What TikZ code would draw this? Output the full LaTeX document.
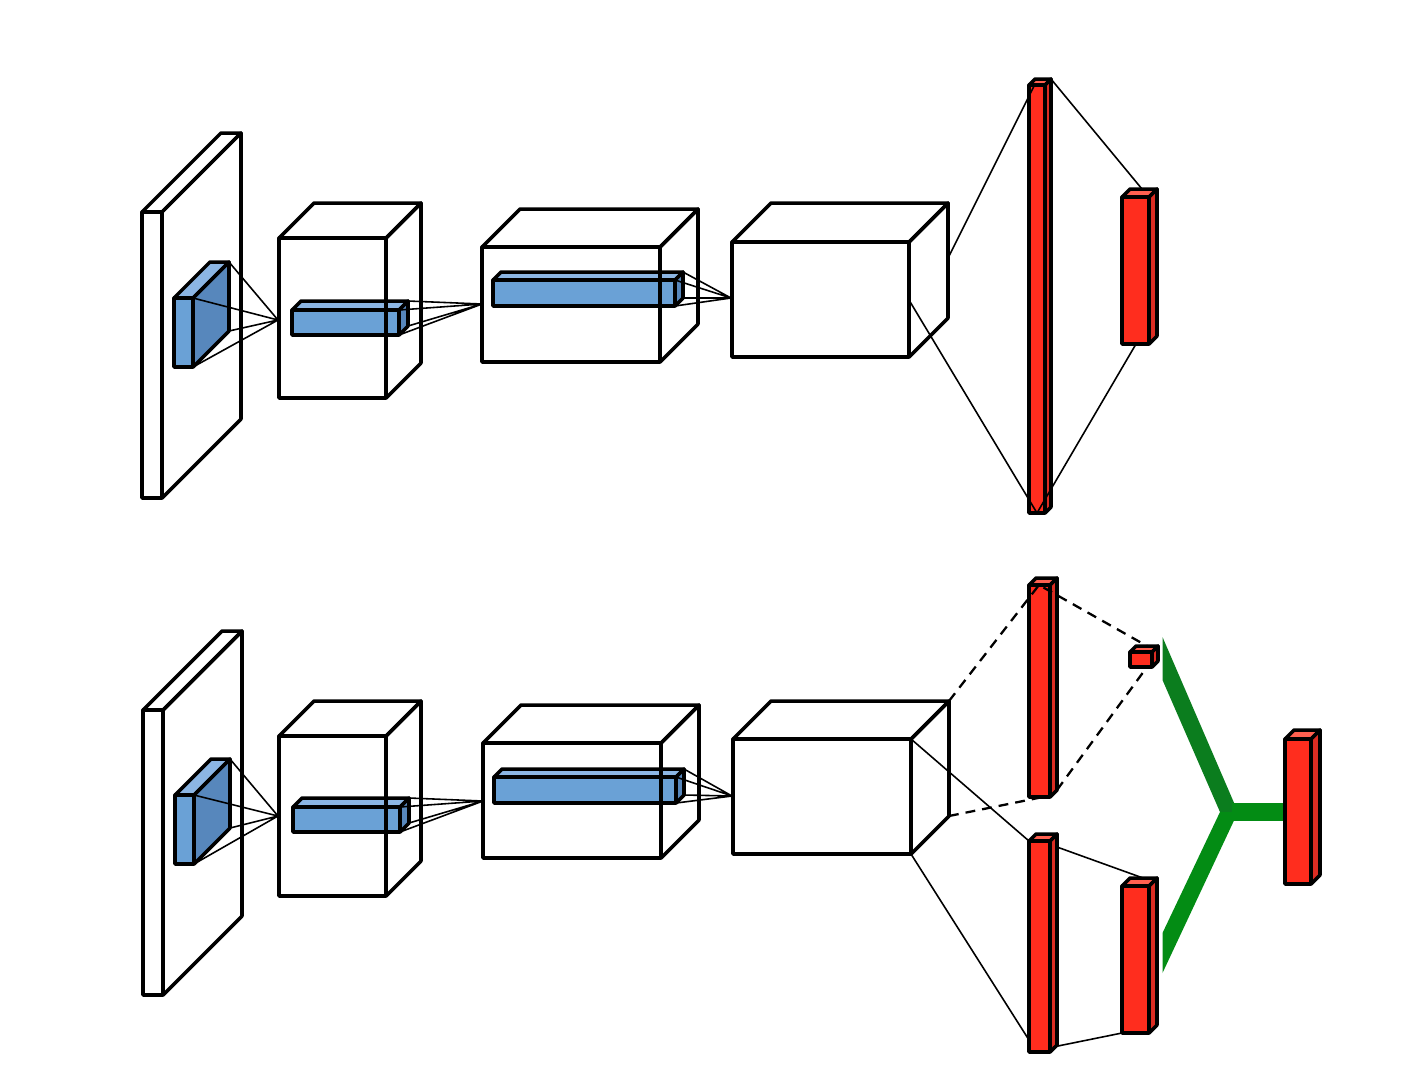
\documentclass[tikz,border=0pt]{standalone}
\usetikzlibrary{calc}

\definecolor{bluefc}{HTML}{6AA1D6}
\definecolor{bluetc}{HTML}{8CB6E4}
\definecolor{bluesc}{HTML}{5787BC}
\definecolor{redfc}{HTML}{FF2D1E}
\definecolor{redtc}{HTML}{FF6050}
\definecolor{redsc}{HTML}{DC2D23}
\definecolor{greenup}{HTML}{0B7D1E}
\definecolor{greenlo}{HTML}{038C14}

% #1 name, #2 x, #3 y (front top-left, px), #4 width, #5 height, #6 depth, #7 colour set
\newcommand{\cuboid}[7]{%
  \coordinate (#1-ftl) at (#2,#3);
  \coordinate (#1-ftr) at ({#2+#4},#3);
  \coordinate (#1-fbl) at (#2,{#3+#5});
  \coordinate (#1-fbr) at ({#2+#4},{#3+#5});
  \coordinate (#1-btl) at ({#2+#6},{#3-#6});
  \coordinate (#1-btr) at ({#2+#4+#6},{#3-#6});
  \coordinate (#1-bbr) at ({#2+#4+#6},{#3+#5-#6});
  \path[#7top] (#1-ftl) -- (#1-btl) -- (#1-btr) -- (#1-ftr) -- cycle;
  \path[#7side] (#1-ftr) -- (#1-btr) -- (#1-bbr) -- (#1-fbr) -- cycle;
  \path[#7front] (#1-ftl) rectangle (#1-fbr);
}

\begin{document}
\begin{tikzpicture}[x=0.01cm,y=-0.01cm]
	\tikzset{
		frame/.style={draw=black, line width=1pt, line join=round},
		plaintop/.style={frame}, plainside/.style={frame}, plainfront/.style={frame},
		bluetop/.style={frame, fill=bluetc}, blueside/.style={frame, fill=bluesc}, bluefront/.style={frame, fill=bluefc},
		redtop/.style={frame, fill=redtc}, redside/.style={frame, fill=redsc}, redfront/.style={frame, fill=redfc},
		wire/.style={draw=black, line width=0.45pt},
		dashwire/.style={draw=black, line width=0.65pt, dash pattern=on 2.8pt off 2pt}
	}
	\useasboundingbox (0,0) rectangle (1402,1090);

	% upper network
	\cuboid{pa1}{174}{298}{19}{69}{36}{blue}
	\cuboid{br2}{292}{310}{107}{25}{9}{blue}
	\cuboid{br3}{493}{280}{182}{26}{8}{blue}
	\cuboid{in1}{142}{212}{20}{286}{79}{plain}
	\cuboid{cu2}{279}{238}{107}{160}{35}{plain}
	\cuboid{cu3}{482}{247}{178}{115}{38}{plain}
	\cuboid{cu4}{732}{242}{177}{115}{39}{plain}
	\cuboid{fc1}{1029}{85}{16}{428}{6}{red}
	\cuboid{fc2}{1122}{197}{27}{147}{8}{red}

	\coordinate (cv2) at (278,320);
	\coordinate (cv3) at (482,304);
	\coordinate (cv4) at (731,298);
	\coordinate (o4a) at (948,258);
	\coordinate (o4b) at (909,300);
	\coordinate (f1top) at (1035,84);
	\coordinate (f1bot) at (1037,513);
	\coordinate (f2top) at (1142,189);
	\coordinate (f2bot) at (1136,344);

	\draw[wire] (pa1-ftr) -- (cv2) (pa1-btr) -- (cv2) (pa1-bbr) -- (cv2) (pa1-fbr) -- (cv2);
	\draw[wire] (br2-ftr) -- (cv3) (br2-btr) -- (cv3) (br2-bbr) -- (cv3) (br2-fbr) -- (cv3);
	\draw[wire] (br3-ftr) -- (cv4) (br3-btr) -- (cv4) (br3-bbr) -- (cv4) (br3-fbr) -- (cv4);
	\draw[wire] (o4a) -- (f1top);
	\draw[wire] (o4b) -- (f1bot);
	\draw[wire] (fc1-btr) -- (f2top);
	\draw[wire] (f1bot) -- (f2bot);

	% lower network
	\cuboid{pb1}{175}{795}{19}{69}{36}{blue}
	\cuboid{bb2}{293}{807}{107}{25}{9}{blue}
	\cuboid{bb3}{494}{777}{182}{26}{8}{blue}
	\cuboid{in1b}{143}{710}{20}{285}{79}{plain}
	\cuboid{cu2b}{279}{736}{107}{160}{35}{plain}
	\cuboid{cu3b}{483}{743}{178}{115}{38}{plain}
	\cuboid{cu4b}{733}{739}{178}{115}{38}{plain}
	\cuboid{fa}{1029}{585}{21}{212}{7}{red}
	\cuboid{sm}{1130}{652}{22}{15}{6}{red}
	\cuboid{fb}{1029}{841}{21}{211}{7}{red}
	\cuboid{fcb}{1122}{886}{27}{147}{8}{red}

	% merge
	\fill[greenup] (1162.5,637) -- (1238,812) -- (1220,812) -- (1162.5,680) -- cycle;
	\fill[greenlo] (1220,812) -- (1238,812) -- (1162.5,973) -- (1162.5,933) -- cycle;
	\fill[greenlo] (1232,803) rectangle (1286,821);
	\cuboid{fd}{1285}{739}{26}{145}{9}{red}

	\coordinate (cv2b) at (278,816);
	\coordinate (cv3b) at (483,801);
	\coordinate (cv4b) at (732,796);
	\coordinate (fatop) at (1039,585);
	\coordinate (fabot) at (1043,797);
	\coordinate (smtop) at (1147,646);
	\coordinate (smbot) at (1147,667);
	\coordinate (fbin) at (1029,1040);
	\coordinate (fbout) at (1057,847);
	\coordinate (fbbot) at (1053,1047);
	\coordinate (fctop) at (1143,878);

	\draw[wire] (pb1-ftr) -- (cv2b) (pb1-btr) -- (cv2b) (pb1-bbr) -- (cv2b) (pb1-fbr) -- (cv2b);
	\draw[wire] (bb2-ftr) -- (cv3b) (bb2-btr) -- (cv3b) (bb2-bbr) -- (cv3b) (bb2-fbr) -- (cv3b);
	\draw[wire] (bb3-ftr) -- (cv4b) (bb3-btr) -- (cv4b) (bb3-bbr) -- (cv4b) (bb3-fbr) -- (cv4b);
	\draw[dashwire] (cu4b-btr) -- (fatop) -- (smtop);
	\draw[dashwire] (cu4b-bbr) -- (fabot);
	\draw[dashwire] (fa-bbr) -- (smbot);
	\draw[wire] (cu4b-ftr) -- (fb-ftl);
	\draw[wire] (cu4b-fbr) -- (fbin);
	\draw[wire] (fbout) -- (fctop);
	\draw[wire] (fbbot) -- (fcb-fbl);
\end{tikzpicture}
\end{document}
